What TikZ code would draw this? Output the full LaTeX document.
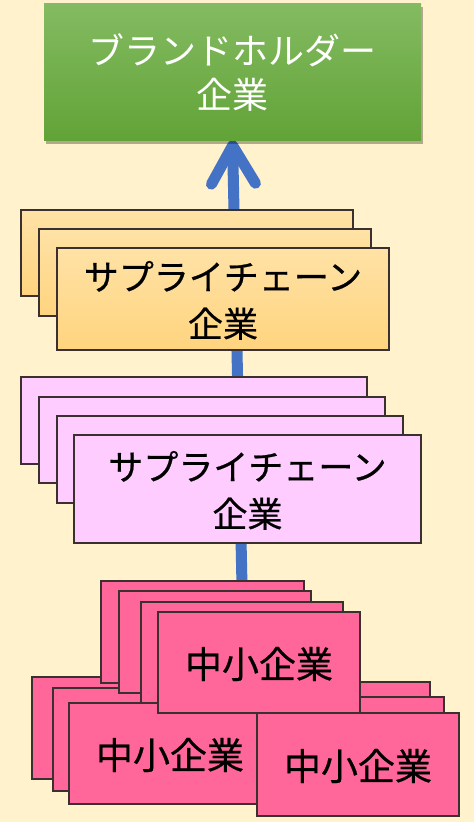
\documentclass[tikz,border=0pt]{standalone}
\usepackage{fontspec}
\newfontfamily\jp{Noto Sans CJK JP}
\newfontfamily\jpm[FakeBold=0.6]{Noto Sans CJK JP}
\usetikzlibrary{arrows.meta,shadows}
\definecolor{bgc}{HTML}{FFF2CC}
\definecolor{arrowblue}{HTML}{4472C4}
\definecolor{gtop}{HTML}{84BB62}
\definecolor{gbot}{HTML}{62A337}
\definecolor{otop}{HTML}{FFE2A6}
\definecolor{obot}{HTML}{FFD47E}
\definecolor{lpink}{HTML}{FFCCFF}
\definecolor{dpink}{HTML}{FF6699}
\definecolor{edgec}{HTML}{3A3030}
\pgfdeclarelayer{bg}
\pgfsetlayers{bg,main}
\begin{document}
\begin{tikzpicture}[x=1pt,y=-1pt,
  box/.style={draw=edgec, line width=1.2pt, rectangle, inner sep=0pt, align=center,
    text depth=-3pt, font=\jpm\fontsize{35}{47}\selectfont},
  greenbox/.style={rectangle, inner sep=0pt, align=center, text=white,
    top color=gtop, bottom color=gbot, text depth=-3pt,
    font=\jp\fontsize{36}{44}\selectfont,
    drop shadow={shadow xshift=2pt, shadow yshift=-4pt, fill=black, opacity=0.3}},
  orangebox/.style={box, top color=otop, bottom color=obot},
  lpinkbox/.style={box, fill=lpink},
  dpinkbox/.style={box, fill=dpink, font=\jpm\fontsize{37}{46}\selectfont},
  flow/.style={draw=arrowblue, line width=11pt,
    -{Straight Barb[length=38pt,width=44pt,round]}}
]
\begin{pgfonlayer}{bg}
  \fill[bgc] (0,0) rectangle (474,822);
\end{pgfonlayer}
\useasboundingbox (0,0) rectangle (474,822);

% brand holder
\node[greenbox, minimum width=377pt, minimum height=137pt] (G) at (232.5,71.5)
  {ブランドホルダー\\企業};

% supply chain (orange)
\node[orangebox, minimum width=332pt, minimum height=86pt] (O1) at (187,253) {};
\node[orangebox, minimum width=332pt, minimum height=87pt] (O2) at (205,272.5) {};
\node[orangebox, minimum width=332pt, minimum height=102pt] (O3) at (223,299)
  {サプライチェーン\\企業};

% supply chain (light pink)
\node[lpinkbox, minimum width=346pt, minimum height=87pt] (P1) at (194,420.5) {};
\node[lpinkbox, minimum width=346pt, minimum height=86pt] (P2) at (212,440) {};
\node[lpinkbox, minimum width=346pt, minimum height=87pt] (P3) at (230,459.5) {};
\node[lpinkbox, minimum width=347pt, minimum height=108pt] (P4) at (247.5,489)
  {サプライチェーン\\企業};

% SMEs
\node[dpinkbox, minimum width=202pt, minimum height=102pt] (L1) at (133,728) {};
\node[dpinkbox, minimum width=202pt, minimum height=103pt] (L2) at (154,739.5) {};
\node[dpinkbox, minimum width=202pt, minimum height=103pt] (R1) at (329,733.5) {};
\node[dpinkbox, minimum width=202pt, minimum height=103pt] (R2) at (343,748.5) {};
\node[dpinkbox, minimum width=202pt, minimum height=101pt] (L3) at (170,753.5) {中小企業};
\node[dpinkbox, minimum width=202pt, minimum height=103pt] (R3) at (358,764.5) {中小企業};
\node[dpinkbox, minimum width=203pt, minimum height=102pt] (B1) at (202.5,632) {};
\node[dpinkbox, minimum width=192pt, minimum height=102pt] (B2) at (215,642) {};
\node[dpinkbox, minimum width=202pt, minimum height=101pt] (B3) at (242,652.5) {};
\node[dpinkbox, minimum width=202pt, minimum height=101pt] (B4) at (259,662.5) {中小企業};

\coordinate (start) at (242,586);
\begin{pgfonlayer}{bg}
  \draw[flow] (start) -- (G.south);
\end{pgfonlayer}
\end{tikzpicture}
\end{document}
